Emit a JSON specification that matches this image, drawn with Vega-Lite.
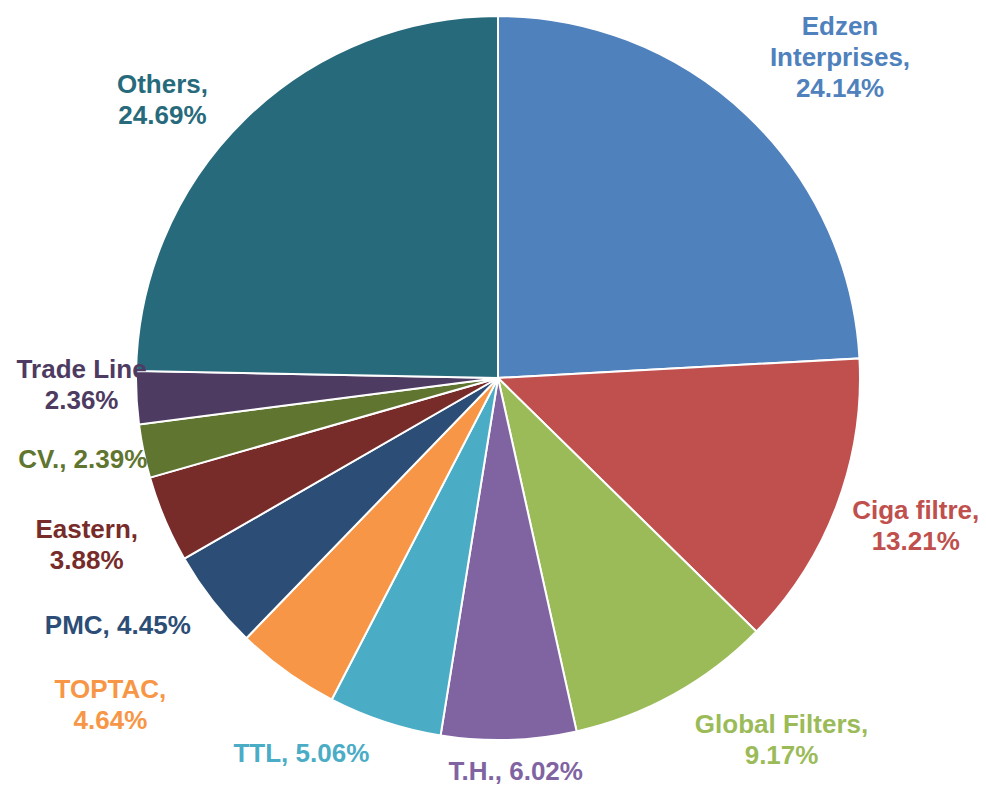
{
  "$schema": "https://vega.github.io/schema/vega-lite/v6.json",
  "width": 976,
  "height": 756,
  "autosize": {"type": "none"},
  "padding": {"left": 10, "top": 0, "right": 0, "bottom": 31},
  "background": "white",
  "config": {
    "view": {"stroke": null},
    "text": {"font": "Liberation Sans", "fontWeight": "bold", "fontSize": 26, "lineHeight": 31, "align": "center", "baseline": "middle"}
  },
  "data": {
    "values": [
      {"company": "Edzen Interprises", "share": 24.14, "order": 1, "label": ["Edzen", "Interprises,", "24.14%"]},
      {"company": "Ciga filtre", "share": 13.21, "order": 2, "label": ["Ciga filtre,", "13.21%"]},
      {"company": "Global Filters", "share": 9.17, "order": 3, "label": ["Global Filters,", "9.17%"]},
      {"company": "T.H.", "share": 6.02, "order": 4, "label": ["T.H., 6.02%"]},
      {"company": "TTL", "share": 5.06, "order": 5, "label": ["TTL, 5.06%"]},
      {"company": "TOPTAC", "share": 4.64, "order": 6, "label": ["TOPTAC,", "4.64%"]},
      {"company": "PMC", "share": 4.45, "order": 7, "label": ["PMC, 4.45%"]},
      {"company": "Eastern", "share": 3.88, "order": 8, "label": ["Eastern,", "3.88%"]},
      {"company": "CV.", "share": 2.39, "order": 9, "label": ["CV., 2.39%"]},
      {"company": "Trade Line", "share": 2.36, "order": 10, "label": ["Trade Line", "2.36%"]},
      {"company": "Others", "share": 24.69, "order": 11, "label": ["Others,", "24.69%"]}
    ]
  },
  "encoding": {
    "theta": {"field": "share", "type": "quantitative", "stack": true},
    "order": {"field": "order", "type": "quantitative"},
    "color": {
      "field": "company",
      "type": "nominal",
      "legend": null,
      "scale": {
        "domain": ["Edzen Interprises", "Ciga filtre", "Global Filters", "T.H.", "TTL", "TOPTAC", "PMC", "Eastern", "CV.", "Trade Line", "Others"],
        "range": ["#4F81BD", "#C0504D", "#9BBB59", "#8064A2", "#4BACC6", "#F79646", "#2C4D75", "#772C2A", "#5F7530", "#4D3B62", "#276A7C"]
      }
    }
  },
  "layer": [
    {"mark": {"type": "arc", "outerRadius": 362, "stroke": "white", "strokeWidth": 2}},
    {"mark": {"type": "text", "radius": 490, "dx": 5, "dy": 5},
     "encoding": {"text": {"condition": {"test": "datum.company === 'Edzen Interprises'", "field": "label"}, "value": ""}}},
    {"mark": {"type": "text", "radius": 439, "dx": 7, "dy": -22},
     "encoding": {"text": {"condition": {"test": "datum.company === 'Ciga filtre'", "field": "label"}, "value": ""}}},
    {"mark": {"type": "text", "radius": 448, "dx": 66, "dy": -45},
     "encoding": {"text": {"condition": {"test": "datum.company === 'Global Filters'", "field": "label"}, "value": ""}}},
    {"mark": {"type": "text", "radius": 394, "dx": 6, "dy": 0},
     "encoding": {"text": {"condition": {"test": "datum.company === 'T.H.'", "field": "label"}, "value": ""}}},
    {"mark": {"type": "text", "radius": 424, "dx": -64, "dy": -27},
     "encoding": {"text": {"condition": {"test": "datum.company === 'TTL'", "field": "label"}, "value": ""}}},
    {"mark": {"type": "text", "radius": 498, "dx": -97, "dy": -92},
     "encoding": {"text": {"condition": {"test": "datum.company === 'TOPTAC'", "field": "label"}, "value": ""}}},
    {"mark": {"type": "text", "radius": 453, "dx": -23, "dy": -31},
     "encoding": {"text": {"condition": {"test": "datum.company === 'PMC'", "field": "label"}, "value": ""}}},
    {"mark": {"type": "text", "radius": 438, "dx": -8, "dy": -19},
     "encoding": {"text": {"condition": {"test": "datum.company === 'Eastern'", "field": "label"}, "value": ""}}},
    {"mark": {"type": "text", "radius": 424, "dx": 0, "dy": -4},
     "encoding": {"text": {"condition": {"test": "datum.company === 'CV.'", "field": "label"}, "value": ""}}},
    {"mark": {"type": "text", "radius": 417, "dx": 0, "dy": -31},
     "encoding": {"text": {"condition": {"test": "datum.company === 'Trade Line'", "field": "label"}, "value": ""}}},
    {"mark": {"type": "text", "radius": 445, "dx": -24, "dy": 25},
     "encoding": {"text": {"condition": {"test": "datum.company === 'Others'", "field": "label"}, "value": ""}}}
  ]
}
